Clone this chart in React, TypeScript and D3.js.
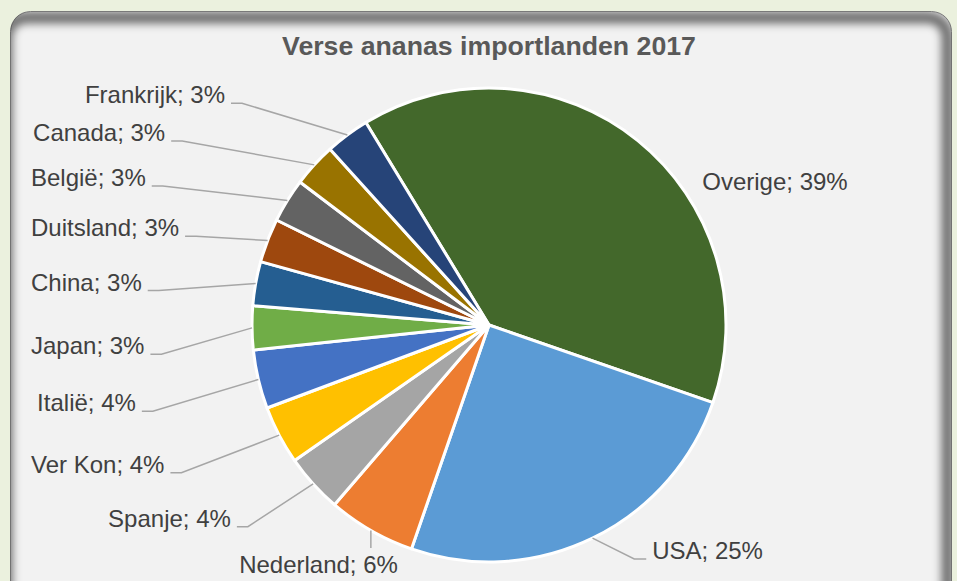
import { useEffect, useRef } from "react";
import * as d3 from "d3";

const countries = ["Overige", "USA", "Nederland", "Spanje", "Ver Kon", "Italië", "Japan", "China", "Duitsland", "België", "Canada", "Frankrijk"];
const shares = [39, 25, 6, 4, 4, 4, 3, 3, 3, 3, 3, 3];
const colors = ["#43682b", "#5b9bd5", "#ed7d31", "#a5a5a5", "#ffc000", "#4472c4", "#70ad47", "#255e91", "#9e480e", "#636363", "#997300", "#264478"];
const title = "Verse ananas importlanden 2017";

type Slice = { name: string; value: number; color: string };

const W = 957;
const H = 581;
const FONT = "'Liberation Sans', Arial, sans-serif";

const App = () => {
  const ref = useRef<SVGSVGElement>(null!);

  useEffect(() => {
    const svg = d3.select(ref.current);
    svg.selectAll("*").remove();

    const cx = 489;
    const cy = 325;
    const r = 237;

    const defs = svg.append("defs");
    defs
      .append("clipPath")
      .attr("id", "panel-clip")
      .append("rect")
      .attr("x", 10.5)
      .attr("y", 11.5)
      .attr("width", 941)
      .attr("height", 620)
      .attr("rx", 20);
    defs
      .append("filter")
      .attr("id", "soft")
      .attr("x", "-10%")
      .attr("y", "-10%")
      .attr("width", "120%")
      .attr("height", "120%")
      .append("feGaussianBlur")
      .attr("stdDeviation", 4);

    // background + panel
    svg.append("rect").attr("width", W).attr("height", H).attr("fill", "#ebf1de");
    svg
      .append("rect")
      .attr("x", 10.5)
      .attr("y", 11.5)
      .attr("width", 941)
      .attr("height", 620)
      .attr("rx", 20)
      .attr("fill", "#f2f2f2")
      .attr("stroke", "#8c8c8c")
      .attr("stroke-width", 1);
    // inner shadow along top and right
    svg
      .append("g")
      .attr("clip-path", "url(#panel-clip)")
      .append("rect")
      .attr("x", 6.5)
      .attr("y", 17.5)
      .attr("width", 941)
      .attr("height", 620)
      .attr("rx", 20)
      .attr("fill", "none")
      .attr("stroke", "#000")
      .attr("stroke-opacity", 0.55)
      .attr("stroke-width", 12)
      .attr("filter", "url(#soft)");

    svg
      .append("text")
      .attr("x", cx)
      .attr("y", 55)
      .attr("text-anchor", "middle")
      .attr("font-family", FONT)
      .attr("font-weight", "bold")
      .attr("font-size", 26.7)
      .attr("fill", "#595959")
      .text(title);

    const data: Slice[] = countries.map((name, i) => ({ name, value: shares[i], color: colors[i] }));
    const start = (-31.3 * Math.PI) / 180;
    const pie = d3
      .pie<Slice>()
      .value((d) => d.value)
      .sort(null)
      .startAngle(start)
      .endAngle(start + 2 * Math.PI);
    const arc = d3.arc<d3.PieArcDatum<Slice>>().innerRadius(0).outerRadius(r);
    const arcs = pie(data);

    const g = svg.append("g").attr("transform", `translate(${cx},${cy})`);
    g.selectAll("path")
      .data(arcs)
      .enter()
      .append("path")
      .attr("d", arc)
      .attr("fill", (d) => d.data.color)
      .attr("stroke", "#fff")
      .attr("stroke-width", 3)
      .attr("stroke-linejoin", "round");

    // labels
    const labels = svg.append("g").attr("font-family", FONT).attr("font-size", 24).attr("fill", "#404040");
    const leaders = svg.append("g").attr("fill", "none").attr("stroke", "#a6a6a6").attr("stroke-width", 1.5);
    const line = d3.line();

    arcs.forEach((d) => {
      const a = (d.startAngle + d.endAngle) / 2;
      const s = Math.sin(a);
      const c = Math.cos(a);
      const ex = cx + r * s;
      const ey = cy - r * c;
      const t = labels.append("text").text(`${d.data.name}; ${d.data.value}%`);
      const w = (t.node() as SVGTextElement).getComputedTextLength();

      if (s < -0.55) {
        // left column, pushed against the plot edge when too wide
        const yb = c >= 0 ? 343 - 299 * c : 351 - 262 * c;
        const k = Math.max(0, 1 - Math.abs((yb - 314) / 230) ** 4);
        let xs = cx - 350 * Math.pow(k, 0.25);
        if (xs - 6 - w < 31) xs = 37 + w;
        t.attr("x", xs - 6).attr("y", yb).attr("text-anchor", "end");
        leaders.append("path").attr("d", line([[xs, yb], [xs + 11, yb], [ex, ey]]));
      } else if (c < -0.8 && s < 0) {
        const yb = 573;
        t.attr("x", cx + 342 * s).attr("y", yb).attr("text-anchor", "middle");
        leaders.append("path").attr("d", line([[ex, ey], [ex, yb - 25]]));
      } else if (c < -0.8) {
        const yb = Math.min(336 - 283 * c, 559);
        const xs = cx + 360 * s;
        t.attr("x", xs + 6).attr("y", yb).attr("text-anchor", "start");
        leaders.append("path").attr("d", line([[ex, ey], [xs - 12, yb], [xs, yb]]));
      } else {
        const b = a + 0.3;
        t.attr("x", cx + (r + 20) * Math.sin(b))
          .attr("y", cy - (r + 20) * Math.cos(b) + 8)
          .attr("text-anchor", "start");
      }
    });
  }, []);

  return <svg ref={ref} width={W} height={H} style={{ position: "absolute", left: 0, top: 0 }} />;
};

export default App;
